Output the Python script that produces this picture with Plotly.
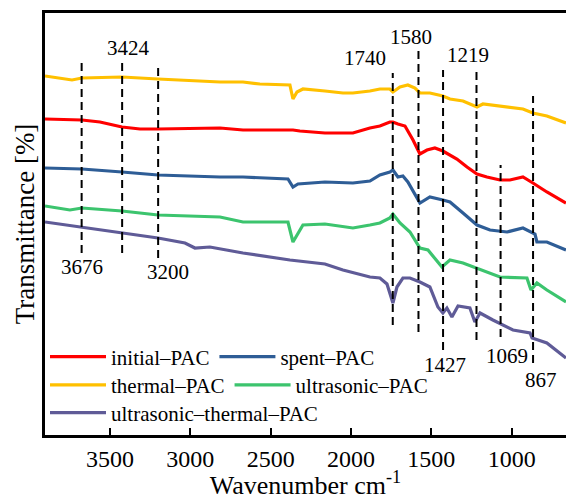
import plotly.graph_objects as go

# ---- data (wavenumber, offset transmittance, arbitrary units) ----
wn_thermal = [3904, 3736, 3674, 3425, 3201, 2815, 2672, 2567, 2380, 2361, 2336, 2299, 2162, 2050, 1988,
              1882, 1820, 1758, 1739, 1695, 1646, 1602, 1571, 1509, 1428, 1384, 1303, 1216, 1179, 1073,
              930, 868, 781, 662]
t_thermal = [359, 355, 357, 358, 356, 353, 353, 351, 350, 336, 343, 346, 344, 342, 342,
             344, 346, 346, 343, 348, 350, 347, 342, 342, 339, 336, 334, 328, 331, 329,
             326, 322, 319, 312]

wn_initial = [3904, 3674, 3562, 3425, 3313, 3201, 2815, 2672, 2361, 2318, 2162, 1988, 1882, 1820, 1758,
              1739, 1708, 1664, 1614, 1571, 1527, 1478, 1428, 1341, 1278, 1216, 1154, 1073, 1011, 930,
              868, 781, 662]
t_initial = [316, 315, 313, 308, 306, 306, 307, 305, 305, 304, 302, 302, 307, 309, 313,
             313, 311, 309, 295, 281, 285, 287, 284, 276, 268, 261, 258, 255, 255, 258,
             252, 243, 232]

wn_spent = [3904, 3674, 3425, 3201, 2815, 2672, 2392, 2361, 2330, 2162, 1988, 1882, 1820, 1758, 1739,
            1708, 1677, 1646, 1571, 1509, 1428, 1384, 1303, 1216, 1135, 1029, 930, 873, 855, 843,
            781, 662]
t_spent = [267, 266, 263, 260, 258, 258, 256, 248, 251, 253, 252, 254, 260, 263, 265,
           258, 259, 253, 232, 238, 235, 233, 222, 210, 205, 203, 207, 202, 201, 193,
           193, 185]

wn_ultra = [3904, 3749, 3674, 3425, 3201, 2815, 2672, 2392, 2361, 2336, 2299, 2162, 1988, 1882, 1820,
            1758, 1739, 1695, 1633, 1571, 1521, 1434, 1384, 1303, 1216, 1073, 905, 880, 843, 781, 662]
t_ultra = [229, 225, 227, 224, 220, 218, 213, 213, 193, 200, 210, 211, 207, 210, 212,
           217, 221, 212, 203, 187, 185, 168, 175, 172, 167, 158, 157, 145, 152, 145, 133]

wn_ut = [3904, 3674, 3425, 3201, 3033, 2971, 2878, 2672, 2380, 2162, 2050, 1882, 1820, 1776, 1739,
         1714, 1677, 1633, 1571, 1509, 1459, 1428, 1403, 1372, 1334, 1260, 1229, 1197, 1117, 992,
         886, 873, 781, 662]
t_ut = [213, 208, 202, 197, 192, 187, 188, 182, 175, 171, 165, 158, 157, 151, 132,
        148, 157, 157, 153, 148, 128, 122, 127, 118, 129, 127, 113, 122, 115, 105,
        102, 97, 92, 77]

series_names = ["initial\u2013PAC", "spent\u2013PAC", "thermal\u2013PAC", "ultrasonic\u2013PAC",
                "ultrasonic\u2013thermal\u2013PAC"]
series_x = [wn_initial, wn_spent, wn_thermal, wn_ultra, wn_ut]
series_y = [t_initial, t_spent, t_thermal, t_ultra, t_ut]
series_colors = ["#FF0000", "#2E5D96", "#FFC000", "#3CC46E", "#5F5B97"]
series_legend = ["legend", "legend", "legend2", "legend2", "legend3"]

# peak markers: wavenumber, label, dashed line span (top, bottom), label anchor (x, y)
peaks = [3676, 3424, 3200, 1740, 1580, 1427, 1219, 1069, 867]
peak_labels = ["3676", "3424", "3200", "1740", "1580", "1427", "1219", "1069", "867"]
peak_top = [373, 373, 367, 362, 385, 365, 366, 270, 339]
peak_bottom = [182, 182, 177, 110, 103, 85, 95, 98, 72]
label_x = [3674, 3382, 3139, 1910, 1624, 1415, 1272, 1029, 815]
label_y = [168, 387, 163, 377, 398, 70, 380, 79, 55]

tick_vals = [3500, 3000, 2500, 2000, 1500, 1000]

FONT = "Liberation Serif, Times New Roman, serif"

fig = go.Figure()
for name, xs, ys, col, lg in zip(series_names, series_x, series_y, series_colors, series_legend):
    fig.add_trace(go.Scatter(x=xs, y=ys, mode="lines", name=name, legend=lg,
                             line=dict(color=col, width=3.2)))

for p, top, bot in zip(peaks, peak_top, peak_bottom):
    fig.add_shape(type="line", x0=p, x1=p, y0=bot, y1=top, xref="x", yref="y",
                  line=dict(color="black", width=2, dash="8px,5px"))

for lab, lx, ly in zip(peak_labels, label_x, label_y):
    fig.add_annotation(x=lx, y=ly, text=lab, showarrow=False, xref="x", yref="y",
                       font=dict(family=FONT, size=21, color="black"))

legend_common = dict(orientation="h", xanchor="left", yanchor="middle",
                     bgcolor="rgba(0,0,0,0)", font=dict(family=FONT, size=21, color="black"),
                     itemwidth=56, tracegroupgap=0)

fig.update_layout(
    width=566, height=500,
    margin=dict(l=45, r=0, t=13, b=65),
    paper_bgcolor="white", plot_bgcolor="white",
    font=dict(family=FONT, color="black"),
    legend=dict(x=0.0, y=0.185, **legend_common),
    legend2=dict(x=0.0, y=0.118, **legend_common),
    legend3=dict(x=0.0, y=0.052, **legend_common),
    xaxis=dict(range=[3904, 662], tickvals=tick_vals, ticks="inside", ticklen=7, tickwidth=2,
               tickcolor="black", showline=True, linecolor="black", linewidth=2.5, mirror=True,
               showgrid=False, zeroline=False,
               tickfont=dict(family=FONT, size=24, color="black"),
               title=dict(text="Wavenumber cm<sup>-1</sup>", font=dict(family=FONT, size=26, color="black"),
                          standoff=9)),
    yaxis=dict(range=[0, 422], showticklabels=False, ticks="", showline=True, linecolor="black",
               linewidth=2.5, mirror=False, showgrid=False, zeroline=False,
               title=dict(text="Transmittance [%]", font=dict(family=FONT, size=27, color="black"),
                          standoff=0)),
)

fig.write_html("out.html")
